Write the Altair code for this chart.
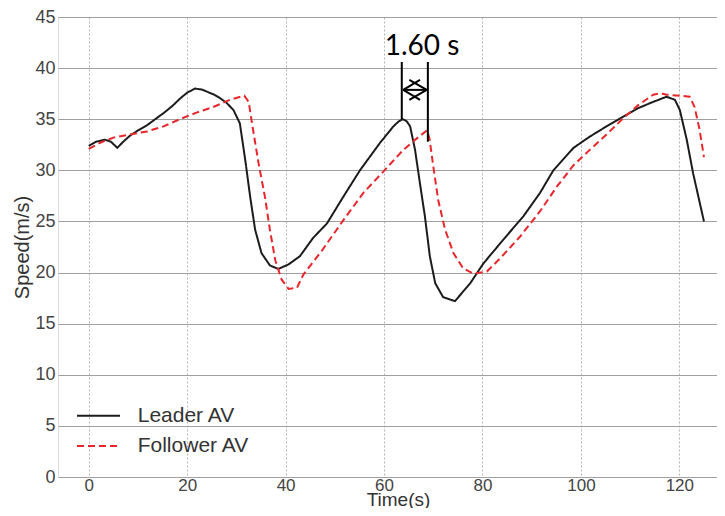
import altair as alt
import pandas as pd

# ---- data ----
leader_t = [0, 1.5, 3.3, 4.5, 5.8, 7.0, 8.4, 10.0, 11.8, 13.5, 15.2, 17.0, 18.5, 20.0, 21.6, 23.0,
            24.0, 25.5, 26.7, 28.0, 29.4, 30.7, 31.8, 32.8, 33.8, 35.1, 36.8, 38.5, 40.6, 42.9,
            45.6, 48.4, 51.7, 55.1, 59.2, 61.9, 63.0, 63.8, 64.6, 65.3, 66.3, 67.3, 68.3, 69.3,
            70.4, 72.0, 74.4, 77.5, 80.2, 84.2, 88.3, 91.7, 94.4, 98.5, 101.8, 105.2, 108.6,
            111.7, 114.7, 117.4, 119.1, 120.1, 121.5, 122.8, 125.0]
leader_v = [32.4, 32.8, 33.0, 32.8, 32.2, 32.8, 33.4, 33.9, 34.4, 35.0, 35.6, 36.3, 37.0, 37.6,
            38.0, 37.9, 37.7, 37.4, 37.05, 36.6, 35.9, 34.6, 31.0, 27.4, 24.2, 21.9, 20.7, 20.35,
            20.8, 21.6, 23.4, 24.8, 27.4, 30.0, 32.7, 34.3, 34.8, 35.0, 34.8, 34.3, 32.0, 28.7,
            25.5, 21.6, 18.95, 17.6, 17.2, 18.95, 20.9, 23.2, 25.5, 27.8, 30.0, 32.2, 33.3, 34.3,
            35.25, 36.1, 36.7, 37.2, 36.9, 35.9, 33.0, 29.7, 25.0]

follower_t = [0, 2.3, 5.0, 8.4, 11.8, 15.2, 18.5, 21.9, 25.3, 28.7, 31.6, 32.5, 33.2, 34.5, 35.8,
              36.8, 37.9, 39.2, 40.6, 42.3, 43.6, 47.3, 51.7, 55.8, 59.9, 63.9, 66.6, 68.7, 69.2,
              70.0, 71.0, 72.4, 74.1, 76.1, 78.1, 80.9, 83.6, 87.6, 91.7, 95.1, 98.5, 101.8,
              105.2, 108.6, 111.7, 114.7, 116.1, 117.4, 120.1, 122.1, 123.1, 124.1, 125.0]
follower_v = [32.1, 32.7, 33.2, 33.5, 33.8, 34.3, 35.0, 35.65, 36.2, 36.9, 37.3, 36.7, 34.5,
              30.7, 27.4, 24.2, 21.2, 19.3, 18.4, 18.5, 19.8, 22.1, 25.1, 27.8, 29.9, 32.0, 33.1,
              33.9, 33.2, 30.4, 27.1, 24.2, 21.9, 20.4, 19.9, 20.1, 21.4, 23.5, 26.0, 28.4, 30.5,
              32.0, 33.5, 35.1, 36.4, 37.4, 37.55, 37.4, 37.3, 37.2, 36.2, 34.0, 31.3]

series_names = ["Leader AV", "Follower AV"]
series_colors = ["#1c1c1c", "#e8262c"]
series_dashes = [[1, 0], [7, 4]]

x_ticks = [0, 20, 40, 60, 80, 100, 120]
y_ticks = [0, 5, 10, 15, 20, 25, 30, 35, 40, 45]

# annotation: two marker lines and a double arrow with the "1.60 s" label
ann_t = [63.6, 68.9, 63.9, 63.9, 63.9, 68.67, 68.67]
ann_t2 = [63.6, 68.9, 68.67, 67.3, 67.3, 65.14, 65.14]
ann_v = [40.6, 40.6, 37.87, 37.87, 37.87, 37.87, 37.87]
ann_v2 = [35.0, 32.8, 37.87, 38.85, 36.9, 38.85, 36.9]
ann_label = ["1.60 s"]
ann_label_t = [67.7]
ann_label_v = [41.3]

df = pd.concat([
    pd.DataFrame({"t": leader_t, "v": leader_v, "series": series_names[0]}),
    pd.DataFrame({"t": follower_t, "v": follower_v, "series": series_names[1]}),
], ignore_index=True)
ann_df = pd.DataFrame({"t": ann_t, "t2": ann_t2, "v": ann_v, "v2": ann_v2})
lab_df = pd.DataFrame({"t": ann_label_t, "v": ann_label_v, "label": ann_label})

FONT = "Liberation Sans"
xscale = alt.Scale(domain=[-6.25, 127.65], nice=False, zero=False)
yscale = alt.Scale(domain=[0, 45], nice=False, zero=False)

x_enc = alt.X("t:Q", scale=xscale, title="Time(s)",
              axis=alt.Axis(values=x_ticks, grid=True, gridColor="#b4b4b4", gridDash=[2, 2],
                            gridWidth=1, domain=False, ticks=False, labelFontSize=17,
                            labelFont=FONT, labelColor="#444444", labelPadding=0,
                            titleFont=FONT, titleFontSize=19, titleFontWeight="normal",
                            titleColor="#333333", titleX=340, titleY=28,
                            titleBaseline="alphabetic", titleAlign="center"))
y_enc = alt.Y("v:Q", scale=yscale, title="Speed(m/s)",
              axis=alt.Axis(values=y_ticks, grid=True, gridColor="#a0a0a0", gridWidth=1,
                            domain=False, ticks=False, labelFontSize=18, labelFont=FONT,
                            labelColor="#444444", labelPadding=3,
                            titleFont=FONT, titleFontSize=20, titleFontWeight="normal",
                            titleColor="#333333", titleX=-29.5, titleY=230,
                            titleBaseline="alphabetic", titleAlign="center"))

lines = alt.Chart(df).mark_line(strokeWidth=2).encode(
    x=x_enc, y=y_enc,
    color=alt.Color("series:N", scale=alt.Scale(domain=series_names, range=series_colors),
                    legend=None),
    strokeDash=alt.StrokeDash("series:N",
                              scale=alt.Scale(domain=series_names, range=series_dashes),
                              legend=None),
)

ann = alt.Chart(ann_df).mark_rule(color="black", strokeWidth=2).encode(
    x=x_enc, x2="t2:Q", y=y_enc, y2="v2:Q")

txt = alt.Chart(lab_df).mark_text(font="Lato", fontSize=28, color="black",
                                  baseline="alphabetic", align="center").encode(
    x=x_enc, y=y_enc, text="label:N")

# legend (inside the plot, lower left), one entry per series
legend_layers = []
for i, (name, col, dash) in enumerate(zip(series_names, series_colors, series_dashes)):
    ypix = 398.7 + 30.3 * i
    entry = alt.Chart(pd.DataFrame({"series": [name]}))
    legend_layers.append(entry.mark_rule(color=col, strokeWidth=2, strokeDash=dash).encode(
        x=alt.value(19), x2=alt.value(62), y=alt.value(ypix)))
    legend_layers.append(entry.mark_text(font=FONT, fontSize=21, color="#333333",
                                         align="left", baseline="middle").encode(
        x=alt.value(79.7), y=alt.value(ypix), text="series:N"))

chart = alt.layer(lines, ann, txt, *legend_layers).properties(
    width=659, height=460,
    autosize=alt.AutoSizeParams(type="none"),
    padding={"left": 50, "top": 9, "right": 0, "bottom": 31},
).configure_view(stroke="#e6e6e6").configure(background="white")

chart.save("out.html", embed_options={"renderer": "svg", "actions": False})
